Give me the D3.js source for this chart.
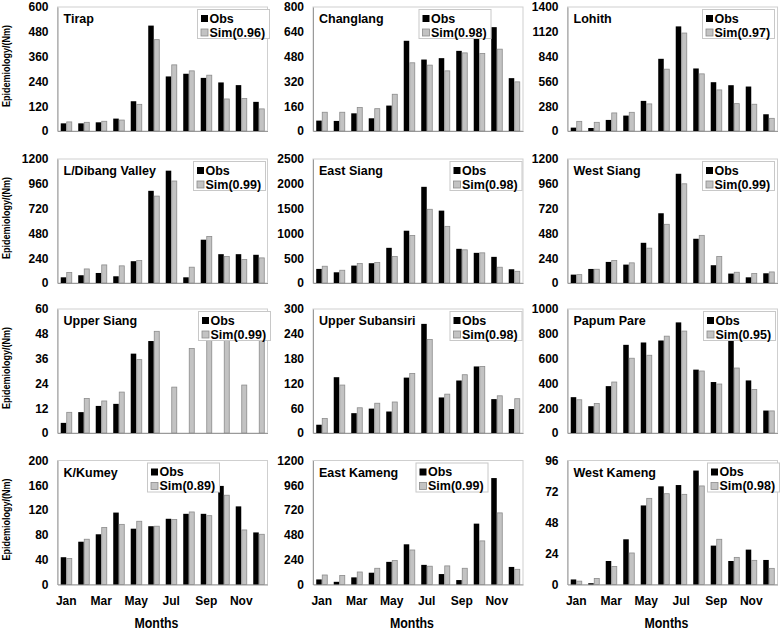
<!DOCTYPE html>
<html><head><meta charset="utf-8">
<script src="https://cdn.jsdelivr.net/npm/d3@7"></script>
<style>
body{margin:0;background:#fff}
text{font-family:"Liberation Sans",Arial,sans-serif;font-weight:bold;fill:#000}
</style>
</head><body><svg id="c" width="782" height="633"></svg>
<script>
const months = ["Jan","Feb","Mar","Apr","May","Jun","Jul","Aug","Sep","Oct","Nov","Dec"];
const monthTickLabels = ["Jan","Mar","May","Jul","Sep","Nov"];
const districts = ["Tirap","Changlang","Lohith","L/Dibang Valley","East Siang","West Siang","Upper Siang","Upper Subansiri","Papum Pare","K/Kumey","East Kameng","West Kameng"];
const fitScores = ["0.96","0.98","0.97","0.99","0.98","0.99","0.99","0.98","0.95","0.89","0.99","0.98"];
const yMaxima = [600,800,1400,1200,2500,1200,60,300,1000,200,1200,96];
const yTickSteps = [120,160,280,240,500,240,12,60,200,40,240,24];

const tirapObs = [37,37,42,60,144,510,264,277,257,235,222,141];
const tirapSim = [44,42,47,53,129,442,320,291,270,155,157,107];
const changlangObs = [67,65,114,82,164,582,461,470,517,612,670,341];
const changlangSim = [121,121,151,144,237,440,425,388,504,500,528,317];
const lohithObs = [38,34,125,174,340,815,1181,706,551,517,502,189];
const lohithSim = [109,98,204,211,306,698,1106,645,464,309,302,143];
const dibangObs = [55,75,97,65,211,892,1087,55,419,279,279,273];
const dibangSim = [101,136,175,166,218,841,987,153,451,256,227,243];
const eastSiangObs = [284,216,351,399,709,1054,1939,1459,689,608,527,277];
const eastSiangSim = [338,257,392,412,534,959,1486,1142,669,608,318,236];
const westSiangObs = [81,136,204,178,389,675,1057,428,172,91,55,94];
const westSiangSim = [81,133,217,195,337,568,960,461,256,104,91,107];
const upperSiangObs = [4.9,10.1,13.1,14.1,38.4,44.5,null,null,null,null,null,null];
const upperSiangSim = [10,16.7,15.5,19.8,35.5,49.2,22.2,40.9,50,52,23.2,49];
const subansiriObs = [20,135,48,59,52,134,264,86,127,161,82,58];
const subansiriSim = [35,116,61,72,75,144,226,94,141,161,90,83];
const papumObs = [289,216,378,711,730,746,892,511,411,765,424,181];
const papumSim = [268,238,411,603,627,781,822,500,395,524,351,178];
const kumeyObs = [44,69,81,116,90,94,106,114,114,159,126,84];
const kumeySim = [42,73,92,97,102,94,105,117,111,144,88,81];
const eastKamengObs = [49,26,69,114,219,389,190,101,43,589,1030,170];
const eastKamengSim = [92,88,121,157,232,334,177,180,157,422,693,147];
const westKamengObs = [3.9,1,18.2,35,61.2,76,77,88.2,30.1,18.2,27,19];
const westKamengSim = [2.6,4.7,14,24.4,66.7,70.3,69.8,76.3,35,21,18.7,12.5];

const obsSeries = [tirapObs,changlangObs,lohithObs,dibangObs,eastSiangObs,westSiangObs,upperSiangObs,subansiriObs,papumObs,kumeyObs,eastKamengObs,westKamengObs];
const simSeries = [tirapSim,changlangSim,lohithSim,dibangSim,eastSiangSim,westSiangSim,upperSiangSim,subansiriSim,papumSim,kumeySim,eastKamengSim,westKamengSim];

// layout (not data)
const colLeft = [57.5, 313, 567.5];
const rowTop = [7, 159, 309, 460.5];
const plotW = 210, plotH = 124;
const legendDX = [140,106,135,136,137,135,141,137,136,90,103,140];

const svg = d3.select("#c");
svg.append("rect").attr("width",782).attr("height",633).attr("fill","#fff");

districts.forEach((name, i) => {
  const col = i % 3, row = Math.floor(i / 3);
  const x0 = colLeft[col], y0 = rowTop[row];
  const g = svg.append("g").attr("transform", `translate(${x0},${y0})`);

  const x = d3.scaleBand().domain(months).range([0, plotW]).paddingInner(0.37).paddingOuter(0.185);
  const xs = d3.scaleBand().domain(["obs","sim"]).range([0, x.bandwidth()]);
  const y = d3.scaleLinear().domain([0, yMaxima[i]]).range([plotH, 0]);

  // frame
  g.append("rect").attr("x",0).attr("y",0).attr("width",plotW).attr("height",plotH)
    .attr("fill","none").attr("stroke","#cfcfcf").attr("stroke-width",1);

  // y axis
  const ticks = d3.range(0, yMaxima[i] + yTickSteps[i]/2, yTickSteps[i]);
  const yAxis = d3.axisLeft(y).tickValues(ticks).tickSize(0).tickPadding(9).tickFormat(d3.format("d"));
  const ya = g.append("g").call(yAxis);
  ya.select(".domain").attr("stroke","#9a9a9a");
  ya.selectAll("text").style("font-size","12px").style("font-family",'"Liberation Sans",Arial,sans-serif').style("font-weight","bold");

  // x axis
  const xAxis = d3.axisBottom(x).tickSize(0).tickFormat(d => monthTickLabels.includes(d) ? d : "");
  const xa = g.append("g").attr("transform",`translate(0,${plotH})`).call(xAxis);
  xa.select(".domain").attr("stroke","#9a9a9a");
  xa.selectAll("text").attr("dy",null).attr("y",20)
    .style("font-size","12px").style("font-family",'"Liberation Sans",Arial,sans-serif').style("font-weight","bold")
    .style("display", row === 3 ? null : "none");

  // bars
  const obs = obsSeries[i], sim = simSeries[i];
  g.append("g").selectAll("rect").data(months.map((m,k)=>({m, v: obs[k]})).filter(d=>d.v!=null))
    .join("rect")
    .attr("x", d => x(d.m) + xs("obs")).attr("width", xs.bandwidth())
    .attr("y", d => y(d.v)).attr("height", d => plotH - y(d.v))
    .attr("fill","#000");
  g.append("g").selectAll("rect").data(months.map((m,k)=>({m, v: sim[k]})).filter(d=>d.v!=null))
    .join("rect")
    .attr("x", d => x(d.m) + xs("sim") + 0.5).attr("width", xs.bandwidth() - 0.5)
    .attr("y", d => y(d.v)).attr("height", d => plotH - y(d.v))
    .attr("fill","#c3c3c3").attr("stroke","#8c8c8c").attr("stroke-width",0.8);

  // title
  g.append("text").attr("x",6).attr("y",16).style("font-size","12.5px").text(name);

  // legend
  const lg = g.append("g").attr("transform",`translate(${legendDX[i]},2.5)`);
  lg.append("rect").attr("width",72).attr("height",29).attr("fill","#fff").attr("stroke","#c8c8c8");
  lg.append("rect").attr("x",3.5).attr("y",5.5).attr("width",7).attr("height",7).attr("fill","#000");
  lg.append("rect").attr("x",3.5).attr("y",19.5).attr("width",7).attr("height",7).attr("fill","#c3c3c3").attr("stroke","#8c8c8c").attr("stroke-width",0.8);
  lg.append("text").attr("x",12).attr("y",13).style("font-size","12.5px").text("Obs");
  lg.append("text").attr("x",12).attr("y",27).style("font-size","12.5px").text(`Sim(${fitScores[i]})`);

  // y title for first column
  if (col === 0) {
    svg.append("text")
      .attr("transform",`translate(${x0 - 48},${y0 + plotH/2 - 3}) rotate(-90)`)
      .attr("text-anchor","middle")
      .attr("textLength",82).attr("lengthAdjust","spacingAndGlyphs")
      .style("font-size","11px").text("Epidemiology/(Nm)");
  }
  // x title for bottom row
  if (row === 3) {
    svg.append("text")
      .attr("x", x0 + plotW/2 - 6).attr("y", 628)
      .attr("text-anchor","middle")
      .attr("textLength",44).attr("lengthAdjust","spacingAndGlyphs")
      .style("font-size","15px").text("Months");
  }
});
</script></body></html>
